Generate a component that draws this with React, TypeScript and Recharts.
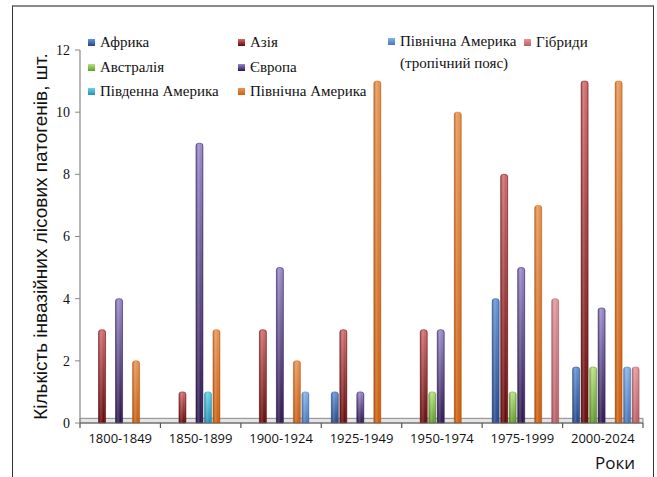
import React from 'react';
import { BarChart, Bar, XAxis, YAxis, ReferenceArea } from 'recharts';

// періоди та кількість патогенів за регіонами походження
const periods = ['1800-1849', '1850-1899', '1900-1924', '1925-1949', '1950-1974', '1975-1999', '2000-2024'];
const africa = [0, 0, 0, 1, 0, 4, 1.8];
const asia = [3, 1, 3, 3, 3, 8, 11];
const australia = [0, 0, 0, 0, 1, 1, 1.8];
const europe = [4, 9, 5, 1, 3, 5, 3.7];
const southAmerica = [0, 1, 0, 0, 0, 0, 0];
const northAmerica = [2, 3, 2, 11, 10, 7, 11];
const northAmericaTropical = [0, 0, 1, 0, 0, 0, 1.8];
const hybrids = [0, 0, 0, 0, 0, 4, 1.8];
const yTicks = [0, 2, 4, 6, 8, 10, 12];

const series = [
  { key: 'africa', name: 'Африка', values: africa, top: '#6394d8', bottom: '#24468a', col: 1, row: 1 },
  { key: 'asia', name: 'Азія', values: asia, top: '#d36a6c', bottom: '#650707', col: 2, row: 1 },
  { key: 'australia', name: 'Австралія', values: australia, top: '#b8e27f', bottom: '#5f9b2b', col: 1, row: 2 },
  { key: 'europe', name: 'Європа', values: europe, top: '#9a88cc', bottom: '#2a144e', col: 2, row: 2 },
  { key: 'southAmerica', name: 'Південна Америка', values: southAmerica, top: '#66d4ec', bottom: '#2490b3', col: 1, row: 3 },
  { key: 'northAmerica', name: 'Північна Америка', values: northAmerica, top: '#e99552', bottom: '#cf5f0e', col: 2, row: 3 },
  { key: 'northAmericaTropical', name: 'Північна Америка|(тропічний пояс)', values: northAmericaTropical, top: '#85b3e8', bottom: '#4677bd', col: 3, row: 1 },
  { key: 'hybrids', name: 'Гібриди', values: hybrids, top: '#e3979b', bottom: '#bd5c64', col: 4, row: 1 },
];

const data = periods.map((p, i) => {
  const row: any = { period: p };
  series.forEach(s => { row[s.key] = s.values[i]; });
  return row;
});

const W = 657;
const H = 477;
const M = { top: 50, right: 14, bottom: 0, left: 0 };
const X_AXIS_H = 54;
const Y_AXIS_W = 80;
const BAND = (W - M.left - M.right - Y_AXIS_W) / periods.length;
const DEPTH = 4; // зсув "3D" стовпчиків углиб
const SERIF = '"Times New Roman", "Liberation Serif", serif';
const SANS = '"Open Sans", "Noto Sans", sans-serif';

const Cylinder = (props: any) => {
  const { y, width, height, sk, edge } = props;
  if (!height || height <= 0) return null;
  const x = props.x + DEPTH;
  const r = Math.min(2.5, width / 2);
  const d = `M${x},${y + height} L${x},${y + r} Q${x},${y} ${x + r},${y} L${x + width - r},${y} Q${x + width},${y} ${x + width},${y + r} L${x + width},${y + height} Z`;
  return (
    <g>
      <path d={d} fill={`url(#v-${sk})`} />
      <path d={d} fill="url(#cyl)" stroke={edge} strokeOpacity={0.7} strokeWidth={0.7} />
    </g>
  );
};

const XTick = (props: any) => {
  const { x, y, payload, index, visibleTicksCount } = props;
  const half = BAND / 2;
  return (
    <g>
      <line x1={x - half} y1={y} x2={x - half} y2={y + 5} stroke="#555" strokeWidth={1.2} />
      {index === visibleTicksCount - 1 && (
        <line x1={x + half} y1={y} x2={x + half} y2={y + 5} stroke="#555" strokeWidth={1.2} />
      )}
      <text x={x} y={y + 20} textAnchor="middle" fontSize={13} fontFamily={SANS} fill="#111">
        {payload.value}
      </text>
    </g>
  );
};

const LegendBox = () => (
  <div
    style={{
      position: 'absolute',
      left: 88,
      top: 30,
      display: 'grid',
      gridTemplateColumns: '150px 150px 136px 110px',
      gridAutoRows: '24.5px',
      fontFamily: SERIF,
      fontSize: 15,
      color: '#111',
    }}
  >
    {series.map(s => {
      const tall = s.key === 'northAmericaTropical';
      const lines = s.name.split('|');
      return (
        <div
          key={s.key}
          style={{
            gridColumn: s.col,
            gridRow: tall ? '1 / span 2' : s.row,
            display: 'flex',
            alignItems: 'flex-start',
            lineHeight: tall ? '22px' : '24.5px',
          }}
        >
          <span
            style={{
              width: 7,
              height: 7,
              marginTop: tall ? 8 : 9,
              marginRight: 5,
              flex: 'none',
              background: `linear-gradient(${s.top}, ${s.bottom})`,
            }}
          />
          <span style={{ whiteSpace: 'nowrap' }}>
            {lines.map((l, i) => (
              <React.Fragment key={i}>
                {i > 0 && <br />}
                {l}
              </React.Fragment>
            ))}
          </span>
        </div>
      );
    })}
  </div>
);

export default function App() {
  return (
    <div style={{ position: 'absolute', left: 0, top: 0, width: W, height: H, background: '#fff', overflow: 'hidden' }}>
      <div
        style={{
          position: 'absolute',
          left: 12,
          top: 5,
          width: 640,
          height: 490,
          borderLeft: '1.5px solid #333',
          borderRight: '1.5px solid #333',
          borderTop: '2px solid #8a8a8a',
        }}
      />
      <div style={{ position: 'absolute', left: 0, top: 0 }}>
        <BarChart width={W} height={H} data={data} margin={M} barCategoryGap="7.5%" barGap={1.5}>
          <defs>
            {series.map(s => (
              <linearGradient key={s.key} id={`v-${s.key}`} x1="0" y1="0" x2="0" y2="1">
                <stop offset="0%" stopColor={s.top} />
                <stop offset="100%" stopColor={s.bottom} />
              </linearGradient>
            ))}
            <linearGradient id="cyl" x1="0" y1="0" x2="1" y2="0">
              <stop offset="0%" stopColor="#000" stopOpacity={0.3} />
              <stop offset="35%" stopColor="#fff" stopOpacity={0.18} />
              <stop offset="70%" stopColor="#fff" stopOpacity={0} />
              <stop offset="100%" stopColor="#000" stopOpacity={0.3} />
            </linearGradient>
          </defs>
          <ReferenceArea y1={0} y2={0.15} fill="#e4e4e4" fillOpacity={1} stroke="#8a8a8a" strokeWidth={1} />
          <XAxis
            dataKey="period"
            axisLine={{ stroke: '#666', strokeWidth: 1.2 }}
            tickLine={false}
            tickSize={0}
            tickMargin={0}
            height={X_AXIS_H}
            interval={0}
            tick={<XTick />}
            label={{ value: 'Роки', position: 'insideBottomRight', offset: 8, style: { fontSize: 17, fontFamily: SANS, fill: '#111' } }}
          />
          <YAxis
            width={Y_AXIS_W}
            domain={[0, 12]}
            ticks={yTicks}
            interval={0}
            axisLine={{ stroke: '#888', strokeWidth: 1.2 }}
            tickLine={{ stroke: '#888' }}
            tickSize={5}
            tickMargin={5}
            tick={{ fill: '#111', fontSize: 14, fontFamily: SERIF }}
            label={{
              value: 'Кількість інвазійних лісових патогенів, шт.',
              angle: -90,
              position: 'center',
              style: { fontSize: 19, fontFamily: '"Liberation Sans", Arial, sans-serif', fill: '#111', textAnchor: 'middle' },
            }}
          />
          {series.map(s => (
            <Bar
              key={s.key}
              dataKey={s.key}
              name={s.name.replace('|', ' ')}
              fill={s.top}
              isAnimationActive={false}
              shape={(p: any) => <Cylinder {...p} sk={s.key} edge={s.bottom} />}
            />
          ))}
        </BarChart>
      </div>
      <LegendBox />
    </div>
  );
}
